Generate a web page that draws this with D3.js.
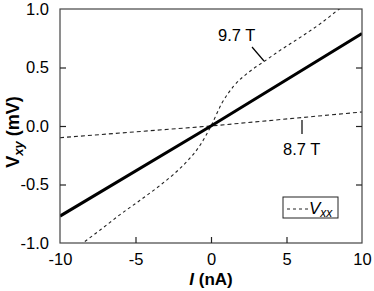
<!DOCTYPE html>
<html><head><meta charset="utf-8">
<script src="https://cdn.jsdelivr.net/npm/d3@7"></script>
<style>body{margin:0;background:#fff}svg{display:block;font-family:"Liberation Sans",Arial,sans-serif}</style>
</head><body><svg id="c" width="374" height="291"></svg>
<script>
const xTicks = [-10, -5, 0, 5, 10];
const yTicks = [-1.0, -0.5, 0.0, 0.5, 1.0];
// solid Vxy line
const solidX = [-10, 0, 10];
const solidY = [-0.77, 0, 0.79];
// 8.7 T (dashed)
const t87X = [-10, 0, 10];
const t87Y = [-0.10, 0, 0.12];
// 9.7 T (dashed, nonlinear)
const t97X = [-10, -8.5, -7.3, -6, -4.7, -3.4, -2.5, -1.5, -0.7, 0, 0.7, 1.5, 2.5, 3.5, 4.5, 6, 7.3, 8.5, 10];
const t97Y = [-1.13, -1.0, -0.885, -0.755, -0.635, -0.51, -0.415, -0.29, -0.16, 0, 0.19, 0.34, 0.46, 0.55, 0.64, 0.765, 0.88, 1.0, 1.13];

const svg = d3.select("#c");
const x = d3.scaleLinear().domain([-10, 10]).range([60, 362]);
const y = d3.scaleLinear().domain([-1, 1]).range([243, 9]);

svg.append("clipPath").attr("id","clip").append("rect")
  .attr("x", x(-10)).attr("y", y(1)).attr("width", x(10)-x(-10)).attr("height", y(-1)-y(1));

const line = d3.line().x(d=>x(d[0])).y(d=>y(d[1]));
const lineC = d3.line().x(d=>x(d[0])).y(d=>y(d[1])).curve(d3.curveMonotoneX);
const g = svg.append("g").attr("clip-path","url(#clip)");
g.append("path").attr("d", line(t87X.map((v,i)=>[v,t87Y[i]])))
  .attr("fill","none").attr("stroke","#222").attr("stroke-width",1.1).attr("stroke-dasharray","4,3");
g.append("path").attr("d", lineC(t97X.map((v,i)=>[v,t97Y[i]])))
  .attr("fill","none").attr("stroke","#222").attr("stroke-width",1.1).attr("stroke-dasharray","3,3");
g.append("path").attr("d", line(solidX.map((v,i)=>[v,solidY[i]])))
  .attr("fill","none").attr("stroke","#000").attr("stroke-width",3);

// frame
svg.append("rect").attr("x", x(-10)).attr("y", y(1)).attr("width", x(10)-x(-10)).attr("height", y(-1)-y(1))
  .attr("fill","none").attr("stroke","#444").attr("stroke-width",1.2);

function styleAxis(sel){
  sel.select(".domain").remove();
  sel.selectAll(".tick line").attr("stroke","#222").attr("stroke-width",1.2);
  sel.selectAll("text").attr("font-size",16.5).attr("fill","#000").attr("font-family",'"Liberation Sans",Arial,sans-serif');
}
const fmtY = d => d3.format(".1f")(d).replace("−","-");
svg.append("g").attr("transform",`translate(${x(-10)},0)`)
  .call(d3.axisLeft(y).tickValues(yTicks).tickSizeInner(-6).tickSizeOuter(0).tickPadding(11).tickFormat(fmtY))
  .call(styleAxis).call(s=>s.selectAll(".tick").filter(d=>Math.abs(d)===1).select("line").remove());
svg.append("g").attr("transform",`translate(${x(10)},0)`)
  .call(d3.axisRight(y).tickValues([-0.5,0,0.5]).tickSizeInner(-6).tickSizeOuter(0).tickFormat(""))
  .call(styleAxis);
svg.append("g").attr("transform",`translate(0,${y(-1)})`)
  .call(d3.axisBottom(x).tickValues(xTicks).tickSizeInner(-6).tickSizeOuter(0).tickPadding(10).tickFormat(d=>String(d).replace("−","-")))
  .call(styleAxis).call(s=>s.selectAll(".tick").filter(d=>Math.abs(d)===10).select("line").remove());

// axis titles
const yl = svg.append("text").attr("transform","translate(19,132) rotate(-90)")
  .attr("text-anchor","middle").attr("font-size",18).attr("font-weight","bold");
yl.append("tspan").text("V");
yl.append("tspan").attr("font-style","italic").attr("font-size",13).attr("dy",4).text("xy");
yl.append("tspan").attr("dy",-4).text(" (mV)");
const xl = svg.append("text").attr("x",211).attr("y",285).attr("text-anchor","middle")
  .attr("font-size",17).attr("font-weight","bold");
xl.append("tspan").attr("font-style","italic").text("I");
xl.append("tspan").text(" (nA)");

// annotations
svg.append("text").attr("x",218).attr("y",41).attr("font-size",16.5).text("9.7 T");
svg.append("line").attr("x1",252).attr("y1",47).attr("x2",264).attr("y2",61).attr("stroke","#000").attr("stroke-width",1.2);
svg.append("text").attr("x",283).attr("y",155).attr("font-size",16.5).text("8.7 T");
svg.append("line").attr("x1",302).attr("y1",120).attr("x2",302).attr("y2",134).attr("stroke","#000").attr("stroke-width",1.2);

// legend
svg.append("rect").attr("x",283).attr("y",197).attr("width",55).attr("height",21)
  .attr("fill","#fff").attr("stroke","#222").attr("stroke-width",1);
svg.append("line").attr("x1",287).attr("x2",308).attr("y1",209).attr("y2",209)
  .attr("stroke","#222").attr("stroke-width",1).attr("stroke-dasharray","3,3");
const lt = svg.append("text").attr("x",309).attr("y",214).attr("font-size",17).attr("font-style","italic");
lt.append("tspan").text("V");
lt.append("tspan").attr("font-size",12).attr("dy",3).text("xx");
</script></body></html>
